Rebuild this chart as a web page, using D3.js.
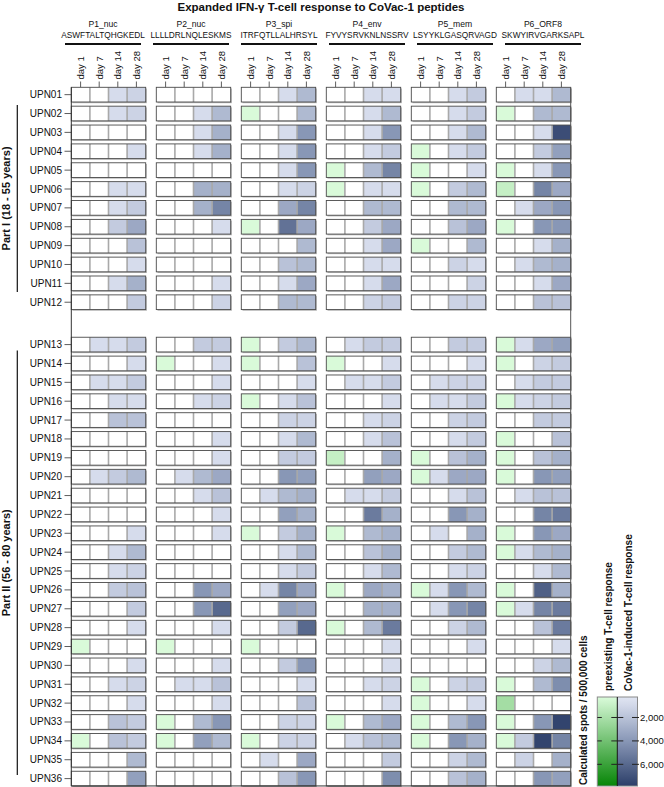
<!DOCTYPE html>
<html><head><meta charset="utf-8">
<script src="https://cdn.jsdelivr.net/npm/d3@7"></script>
<style>body{margin:0;background:#fff} svg{display:block} text{font-family:"Liberation Sans",Arial,Helvetica,sans-serif;fill:#111}</style>
</head><body><svg id="c" width="664" height="787"></svg>
<script>
const patients = d3.range(1, 37).map(i => "UPN" + String(i).padStart(2, "0"));
const days = ["day 1", "day 7", "day 14", "day 28"];
const peptides = ["P1_nuc", "P2_nuc", "P3_spi", "P4_env", "P5_mem", "P6_ORF8"];
const sequences = ["ASWFTALTQHGKEDL", "LLLLDRLNQLESKMS", "ITRFQTLLALHRSYL", "FYVYSRVKNLNSSRV", "LSYYKLGASQRVAGD", "SKWYIRVGARKSAPL"];
const cohorts = ["Part I (18 - 55 years)", "Part II (56 - 80 years)"];
const legendTicks = [2000, 4000, 6000];
const legendTitles = ["preexisting T-cell response", "CoVac-1-induced T-cell response"];

// calculated spots / 500,000 cells; [day 1, day 7, day 14, day 28] per patient (UPN01..UPN36)
const P1 = [[0,0,800,1200],[0,0,800,1200],[0,0,0,0],[0,0,0,800],[0,0,0,0],[0,0,800,800],[0,0,800,1600],[0,0,1600,3200],[0,0,0,2000],[0,0,0,800],[0,0,800,2800],[0,0,0,1600],[0,800,800,1600],[0,0,0,800],[0,800,800,1600],[0,0,800,800],[0,0,2000,2000],[0,0,0,0],[0,0,0,0],[0,800,1600,2400],[0,0,0,0],[0,0,0,0],[0,0,0,800],[0,0,800,2400],[0,0,800,1200],[0,0,1600,2000],[0,0,0,1600],[0,0,0,800],[300,0,0,0],[0,0,0,800],[0,0,800,1200],[0,0,0,800],[0,0,2000,1600],[300,0,2000,1600],[0,0,0,2400],[0,0,0,3600]];
const P2 = [[0,0,0,0],[0,0,800,2400],[0,0,800,2800],[0,0,800,2800],[0,0,0,0],[0,0,2800,2800],[0,0,2800,4800],[0,0,0,800],[0,0,0,0],[0,0,0,0],[0,0,0,800],[0,0,0,1200],[0,0,1600,1600],[300,0,0,800],[0,0,0,800],[0,0,800,1200],[0,0,0,0],[0,0,0,800],[0,0,0,800],[0,800,2400,3200],[0,0,800,2000],[0,0,0,800],[0,0,0,800],[0,0,0,0],[0,0,0,0],[0,0,4000,3200],[0,0,4000,6000],[0,0,0,800],[300,0,0,0],[0,0,0,800],[0,800,800,2000],[0,0,0,800],[300,0,2400,4000],[300,0,3600,2400],[0,0,0,0],[0,0,0,0]];
const P3 = [[0,0,800,2400],[300,0,0,2400],[0,0,800,4000],[0,0,800,4000],[0,0,800,4000],[0,0,800,1200],[0,0,3200,4800],[300,0,5600,3200],[0,0,0,2400],[0,0,2000,2400],[0,0,800,3200],[0,0,2400,2400],[300,0,1600,2400],[300,0,0,2000],[0,0,0,800],[300,0,800,2000],[0,0,1200,1200],[0,0,800,2400],[0,0,1600,1600],[0,0,4000,3600],[0,800,2400,2800],[0,0,3600,2800],[300,0,1600,2800],[0,0,800,2400],[0,0,800,1600],[0,800,4800,3200],[0,0,3600,3200],[0,0,1600,6000],[300,0,0,0],[0,0,1600,4000],[0,0,0,800],[0,0,0,2000],[0,0,1200,1200],[300,0,1200,1200],[0,800,0,3200],[0,0,2000,4000]];
const P4 = [[0,0,800,800],[0,0,800,2400],[0,0,800,4000],[0,0,800,1600],[300,0,2400,4800],[300,0,800,800],[0,0,2400,2400],[0,0,1600,3200],[0,0,800,3200],[0,0,800,800],[0,0,800,3200],[0,0,1200,1600],[0,800,1600,1600],[300,0,0,800],[0,800,800,1600],[0,0,0,800],[0,0,800,1200],[0,0,800,2000],[1000,0,0,2800],[0,0,3600,3200],[0,800,800,1600],[0,0,5200,2800],[300,0,2400,2800],[0,0,2000,2800],[0,0,800,2400],[300,0,3200,2800],[0,0,2800,2800],[300,0,2400,5200],[0,0,0,800],[0,0,0,800],[0,0,800,1200],[0,0,0,800],[300,0,2400,3200],[0,800,2000,2400],[0,0,0,1600],[0,0,0,4400]];
const P5 = [[0,0,800,1600],[0,0,800,1600],[0,0,800,2400],[300,0,800,1600],[300,0,0,800],[300,0,1600,2400],[0,0,2400,2400],[0,0,2000,3200],[300,0,0,2400],[0,0,1200,800],[0,0,0,1200],[0,0,1200,1200],[0,0,1600,1600],[0,0,0,800],[0,800,1200,1200],[0,800,800,1600],[0,0,1200,1600],[0,0,800,1600],[300,0,2000,2800],[300,800,3200,3200],[0,0,800,2000],[0,0,4000,2800],[0,800,0,2800],[0,0,1600,2400],[0,0,800,1200],[300,800,4000,2400],[0,800,4000,4800],[0,0,1200,2400],[0,0,0,800],[0,0,0,0],[300,0,1200,1600],[300,0,0,800],[300,0,2400,4000],[300,0,4000,2800],[0,0,1200,2400],[0,0,2000,2800]];
const P6 = [[0,800,800,2400],[300,0,2400,2400],[0,0,800,7200],[0,0,1600,3600],[300,0,800,4000],[1000,0,4800,3200],[0,800,3200,4000],[300,0,4000,4000],[0,0,800,2800],[0,800,2400,2800],[0,0,800,3200],[0,0,2000,2000],[300,800,3200,3600],[300,0,1200,1600],[0,800,1600,1600],[300,800,1200,1600],[0,0,1600,1600],[300,0,0,2000],[300,0,2000,2800],[300,0,4000,3600],[0,800,2000,2000],[0,0,4800,5200],[300,0,4000,3200],[300,800,2400,2800],[0,0,800,2400],[300,0,6400,2800],[300,800,4800,5200],[0,0,2000,5200],[0,0,0,800],[0,0,1200,2400],[300,0,2400,4400],[2200,0,0,0],[300,0,4000,7600],[300,1600,7600,4800],[0,1200,0,2800],[0,0,4000,3600]];
const valuesByPeptide = [P1, P2, P3, P4, P5, P6];

const svg = d3.select("#c");

// scales
const x = d3.scaleBand().domain(peptides).range([71.3, 570.7]).paddingInner(0.1247).paddingOuter(0);
const xd = d3.scaleBand().domain(days).range([0, x.bandwidth()]);
const rowStep = 18.87, cellH = 14.7, cohortGap = 23.5, splitIndex = 12;
const yPt = d3.scalePoint().domain(patients).range([94.65, 94.65 + 35 * rowStep]);
const y = p => yPt(p) + (patients.indexOf(p) >= splitIndex ? cohortGap : 0);
const plotTop = y(patients[0]) - cellH / 2, plotBottom = y(patients[35]) + cellH / 2;

const blue = d3.scaleLinear().domain([250, 800, 4000, 7850]).range(["#e0e5f2", "#d6dcec", "#8897b6", "#2c3e69"]).clamp(true);
const green = d3.scaleLinear().domain([250, 7850]).range(["#dafbda", "#078507"]).clamp(true);
const fillFor = (v, di) => v <= 0 ? "#ffffff" : (di === 0 ? green(v) : blue(v));

// title
svg.append("text").attr("x", 321).attr("y", 11).attr("text-anchor", "middle")
  .attr("font-size", 11.5).attr("font-weight", "bold").text("Expanded IFN-\u03b3 T-cell response to CoVac-1 peptides");

// headers
const hx = d3.scalePoint().domain(peptides).range([103, 543]);
peptides.forEach((p, i) => {
  svg.append("text").attr("x", hx(p)).attr("y", 26.5).attr("text-anchor", "middle").attr("font-size", 8.6).text(p);
  svg.append("text").attr("x", hx(p)).attr("y", 38.3).attr("text-anchor", "middle").attr("font-size", 8.3).text(sequences[i]);
  svg.append("line").attr("x1", hx(p) - 38).attr("x2", hx(p) + 38).attr("y1", 44).attr("y2", 44)
    .attr("stroke", "#111").attr("stroke-width", 1.8);
});

// day axis
peptides.forEach(p => {
  days.forEach(d => {
    const cx = x(p) + xd(d) + xd.bandwidth() / 2;
    svg.append("line").attr("x1", cx).attr("x2", cx).attr("y1", 81.5).attr("y2", plotTop).attr("stroke", "#333").attr("stroke-width", 0.8);
    svg.append("text").attr("transform", `translate(${cx + 3.4},79.5) rotate(-90)`)
      .attr("text-anchor", "start").attr("font-size", 9.5).text(d);
  });
});

// cells
const g = svg.append("g");
peptides.forEach((p, pi) => {
  patients.forEach((u, ri) => {
    const top = y(u) - cellH / 2, gx = x(p), w = x.bandwidth();
    g.append("rect").attr("x", gx + 1.2).attr("y", top + 1.2).attr("width", w).attr("height", cellH).attr("fill", "#b8b8b8");
    valuesByPeptide[pi][ri].forEach((v, di) => {
      g.append("rect").attr("x", gx + xd(days[di])).attr("y", top).attr("width", xd.bandwidth()).attr("height", cellH)
        .attr("fill", fillFor(v, di));
    });
    days.slice(1).forEach(d => {
      g.append("line").attr("x1", gx + xd(d)).attr("x2", gx + xd(d)).attr("y1", top).attr("y2", top + cellH)
        .attr("stroke", "#a9a9a9").attr("stroke-width", 1.6);
    });
    g.append("rect").attr("x", gx).attr("y", top).attr("width", w).attr("height", cellH)
      .attr("fill", "none").attr("stroke", "#4a4a4a").attr("stroke-width", 0.9);
  });
});

// frame (left axis, right, bottom)
svg.append("line").attr("x1", 71.3).attr("x2", 71.3).attr("y1", plotTop).attr("y2", plotBottom).attr("stroke", "#333").attr("stroke-width", 1);
svg.append("line").attr("x1", 570.7).attr("x2", 570.7).attr("y1", plotTop).attr("y2", plotBottom).attr("stroke", "#555").attr("stroke-width", 1);
svg.append("line").attr("x1", 71.3).attr("x2", 570.7).attr("y1", plotBottom).attr("y2", plotBottom).attr("stroke", "#333").attr("stroke-width", 1);

// row labels
patients.forEach(u => {
  svg.append("line").attr("x1", 64.5).attr("x2", 71.3).attr("y1", y(u)).attr("y2", y(u)).attr("stroke", "#333").attr("stroke-width", 0.8);
  svg.append("text").attr("x", 62).attr("y", y(u)).attr("dy", "0.35em").attr("text-anchor", "end").attr("font-size", 10).text(u);
});

// cohort brackets
const cohortSpans = [[y("UPN02") - 8.6, y("UPN11") + 8.6], [y("UPN13") + 6, y("UPN36") - 3.7]];
cohorts.forEach((c, i) => {
  const [a, b] = cohortSpans[i];
  svg.append("line").attr("x1", 17.3).attr("x2", 17.3).attr("y1", a).attr("y2", b).attr("stroke", "#111").attr("stroke-width", 1.2);
  svg.append("text").attr("transform", `translate(9.8,${(a + b) / 2}) rotate(-90)`).attr("text-anchor", "middle")
    .attr("font-size", 11).attr("font-weight", "bold").text(c);
});

// legend
const ly = d3.scaleLinear().domain([250, 7850]).range([697, 786]);
const defs = svg.append("defs");
[["gG", green], ["gB", blue]].forEach(([id, sc]) => {
  const lg = defs.append("linearGradient").attr("id", id).attr("x1", 0).attr("x2", 0).attr("y1", 0).attr("y2", 1);
  d3.range(0, 11).forEach(k => {
    const v = 250 + k * 760;
    lg.append("stop").attr("offset", k / 10).attr("stop-color", sc(v));
  });
});
const lx0 = 597.3, lx1 = 617.3, lx2 = 637.5;
svg.append("rect").attr("x", lx0).attr("y", ly(250)).attr("width", lx1 - lx0).attr("height", ly(7850) - ly(250)).attr("fill", "url(#gG)");
svg.append("rect").attr("x", lx1).attr("y", ly(250)).attr("width", lx2 - lx1).attr("height", ly(7850) - ly(250)).attr("fill", "url(#gB)");
svg.append("rect").attr("x", lx0).attr("y", ly(250)).attr("width", lx2 - lx0).attr("height", ly(7850) - ly(250))
  .attr("fill", "none").attr("stroke", "#8a8a8a").attr("stroke-width", 1);
svg.append("line").attr("x1", lx1).attr("x2", lx1).attr("y1", ly(250)).attr("y2", ly(7850)).attr("stroke", "#111").attr("stroke-width", 1);
legendTicks.forEach(t => {
  [[lx0, lx0 + 4.5], [lx1 - 6, lx1 + 6], [lx2 - 5.5, lx2 + 1.5]].forEach(([a, b]) => {
    svg.append("line").attr("x1", a).attr("x2", b).attr("y1", ly(t)).attr("y2", ly(t)).attr("stroke", "#222").attr("stroke-width", 1);
  });
  svg.append("text").attr("x", 640).attr("y", ly(t)).attr("dy", "0.35em").attr("font-size", 9.5).text(d3.format(",")(t));
});
svg.append("text").attr("transform", "translate(587,785) rotate(-90)").attr("font-size", 10).attr("font-weight", "bold")
  .text("Calculated spots / 500,000 cells");
svg.append("text").attr("transform", "translate(612,691) rotate(-90)").attr("font-size", 10).attr("font-weight", "bold").text(legendTitles[0]);
svg.append("text").attr("transform", "translate(631.5,691) rotate(-90)").attr("font-size", 10).attr("font-weight", "bold").text(legendTitles[1]);
</script></body></html>
